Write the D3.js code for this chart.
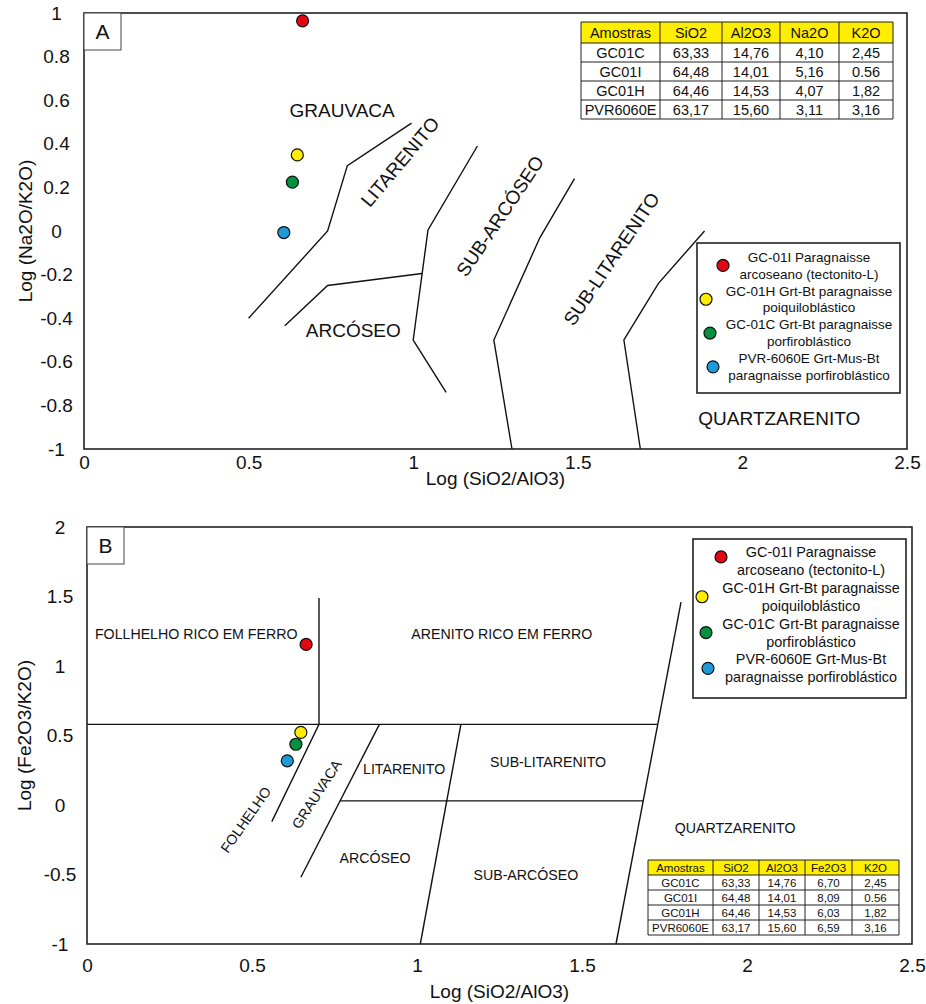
<!DOCTYPE html>
<html>
<head>
<meta charset="utf-8">
<script src="https://cdn.jsdelivr.net/npm/d3@7"></script>
<style>
  body { margin: 0; background: #fff; }
  svg { display: block; font-family: "Liberation Sans", Arial, sans-serif; }
  .tick text { fill: #111; }
</style>
</head>
<body>
<svg></svg>
<script>
// sample table (as printed in the figure)
var samples = ['GC01C', 'GC01I', 'GC01H', 'PVR6060E'];
var sio2 = ['63,33', '64,48', '64,46', '63,17'];
var al2o3 = ['14,76', '14,01', '14,53', '15,60'];
var na2o = ['4,10', '5,16', '4,07', '3,11'];
var fe2o3 = ['6,70', '8,09', '6,03', '6,59'];
var k2o = ['2,45', '0.56', '1,82', '3,16'];

// plotted points, legend order
var pointColors = ['#e30613', '#ffed00', '#00923f', '#1e9ad6'];
var legendLines = [
  ['GC-01I Paragnaisse', 'arcoseano (tectonito-L)'],
  ['GC-01H Grt-Bt paragnaisse', 'poiquiloblástico'],
  ['GC-01C Grt-Bt paragnaisse', 'porfiroblástico'],
  ['PVR-6060E Grt-Mus-Bt', 'paragnaisse porfiroblástico']
];
var logSiAl = [0.664, 0.648, 0.633, 0.607];
var logNaK = [0.964, 0.349, 0.224, -0.007];
var logFeK = [1.155, 0.522, 0.437, 0.318];

var xTicks = [0, 0.5, 1, 1.5, 2, 2.5];
var yTicksA = [1, 0.8, 0.6, 0.4, 0.2, 0, -0.2, -0.4, -0.6, -0.8, -1];
var yTicksB = [2, 1.5, 1, 0.5, 0, -0.5, -1];

// field boundaries
var fieldLinesA = [
  [[0.5, -0.4], [0.74, 0], [0.8, 0.3], [0.995, 0.495]],
  [[0.61, -0.435], [0.74, -0.25], [1.027, -0.195]],
  [[1.195, 0.39], [1.045, 0.005], [1.0, -0.5], [1.1, -0.74]],
  [[1.49, 0.24], [1.385, -0.03], [1.245, -0.5], [1.3, -1]],
  [[1.885, 0], [1.745, -0.24], [1.64, -0.5], [1.69, -1]]
];
var fieldLinesB = [
  [[0, 0.58], [1.728, 0.58]],
  [[0.703, 1.49], [0.703, 0.58], [0.56, -0.12]],
  [[0.886, 0.58], [0.648, -0.52]],
  [[0.767, 0.03], [1.686, 0.03]],
  [[1.133, 0.58], [1.01, -1]],
  [[1.8, 1.46], [1.603, -1]]
];

var fieldNamesA = ['GRAUVACA', 'ARCÓSEO', 'LITARENITO', 'SUB-ARCÓSEO', 'SUB-LITARENITO', 'QUARTZARENITO'];
var fieldPosA = [[0.784, 0.555, 0], [0.818, -0.454, 0], [0.96, 0.317, -50], [1.264, 0.069, -56], [1.602, -0.128, -56], [2.112, -0.858, 0]];
var fieldNamesB = ['FOLLHELHO RICO EM FERRO', 'ARENITO RICO EM FERRO', 'LITARENITO', 'SUB-LITARENITO', 'ARCÓSEO', 'SUB-ARCÓSEO', 'QUARTZARENITO', 'FOLHELHO', 'GRAUVACA'];
var fieldPosB = [[0.331, 1.228, 0], [1.257, 1.233, 0], [0.961, 0.26, 0], [1.397, 0.307, 0], [0.873, -0.385, 0], [1.33, -0.502, 0], [1.964, -0.168, 0], [0.481, -0.106, -55], [0.696, 0.077, -57]];

var width = 926, height = 1004;
var svg = d3.select('svg').attr('width', width).attr('height', height);
svg.append('rect').attr('width', width).attr('height', height).attr('fill', '#fff');

function drawPanel(o) {
  var x = d3.scaleLinear().domain([0, 2.5]).range([o.left, o.right]);
  var y = d3.scaleLinear().domain(o.yDomain).range([o.bottom, o.top]);
  var g = svg.append('g');

  // axes: labels only, no tick marks, plain hyphen for negatives
  var xa = g.append('g')
      .attr('transform', `translate(0, ${o.bottom + o.xPad})`)
      .call(d3.axisBottom(x).tickValues(xTicks).tickSize(0).tickPadding(0).tickFormat(d => String(d)));
  xa.select('.domain').remove();
  xa.selectAll('text').attr('font-size', 19).attr('dy', '0.35em').attr('font-family', null);

  var ya = g.append('g')
      .attr('transform', `translate(${o.yLabelX}, 0)`)
      .call(d3.axisLeft(y).tickValues(o.yTicks).tickSize(0).tickPadding(0).tickFormat(d => String(d)));
  ya.select('.domain').remove();
  ya.selectAll('text').attr('font-size', 19).attr('text-anchor', 'middle').attr('x', 0).attr('font-family', null);

  g.append('text')
      .attr('x', (o.left + o.right) / 2).attr('y', o.xTitleY).attr('dy', '0.35em')
      .attr('text-anchor', 'middle').attr('font-size', 19).attr('fill', '#111')
      .text('Log (SiO2/AlO3)');
  g.append('text')
      .attr('transform', `translate(${o.yTitleX}, ${(o.top + o.bottom) / 2}) rotate(-90)`)
      .attr('dy', '0.35em').attr('text-anchor', 'middle').attr('font-size', 19).attr('fill', '#111')
      .text(o.yTitle);

  // field boundaries
  var line = d3.line().x(d => x(d[0])).y(d => y(d[1]));
  g.selectAll('.field').data(o.lines).enter().append('path')
      .attr('d', line).attr('fill', 'none').attr('stroke', '#111').attr('stroke-width', 1.4);

  g.selectAll('.fname').data(o.names).enter().append('text')
      .attr('transform', (d, i) => `translate(${x(o.namePos[i][0])}, ${y(o.namePos[i][1])}) rotate(${o.namePos[i][2]})`)
      .attr('text-anchor', 'middle').attr('dy', '0.35em')
      .attr('font-size', o.nameSize).attr('fill', '#111')
      .text(d => d);

  // frame
  g.append('rect')
      .attr('x', o.left).attr('y', o.top)
      .attr('width', o.right - o.left).attr('height', o.bottom - o.top)
      .attr('fill', 'none').attr('stroke', '#222').attr('stroke-width', 1.6);
  g.append('rect')
      .attr('x', o.left).attr('y', o.top).attr('width', 37).attr('height', 37)
      .attr('fill', '#fff').attr('stroke', '#444').attr('stroke-width', 1);
  g.append('text')
      .attr('x', o.left + 18.5).attr('y', o.top + 19).attr('dy', '0.35em')
      .attr('text-anchor', 'middle').attr('font-size', 21).attr('fill', '#111')
      .text(o.letter);

  // samples
  g.selectAll('.pt').data(o.ys).enter().append('circle')
      .attr('cx', (d, i) => x(logSiAl[i])).attr('cy', d => y(d)).attr('r', 6)
      .attr('fill', (d, i) => pointColors[i]).attr('stroke', '#111').attr('stroke-width', 1.2);

  // legend
  var L = o.legend;
  g.append('rect')
      .attr('x', L.x0).attr('y', L.y0).attr('width', L.x1 - L.x0).attr('height', L.y1 - L.y0)
      .attr('fill', '#fff').attr('stroke', '#222').attr('stroke-width', 1.6);
  legendLines.forEach(function(lines, i) {
    g.append('circle')
        .attr('cx', L.markX[i]).attr('cy', L.firstY + L.step * (2 * i + 0.5) + L.markDy[i]).attr('r', 6)
        .attr('fill', pointColors[i]).attr('stroke', '#111').attr('stroke-width', 1.2);
    lines.forEach(function(t, j) {
      g.append('text')
          .attr('x', L.textX).attr('y', L.firstY + L.step * (2 * i + j)).attr('dy', '0.35em')
          .attr('text-anchor', 'middle').attr('font-size', L.size).attr('fill', '#111')
          .text(t);
    });
  });

  // data table
  var T = o.table;
  var cols = [['Amostras'].concat(samples), ['SiO2'].concat(sio2), ['Al2O3'].concat(al2o3),
              [o.oxide].concat(o.oxide === 'Na2O' ? na2o : fe2o3), ['K2O'].concat(k2o)];
  var colX = d3.cumsum([T.x].concat(T.widths));
  var rowY = [T.y, T.y + T.headH];
  for (var r = 1; r <= samples.length; r++) rowY.push(rowY[r] + T.rowH);
  g.append('rect')
      .attr('x', T.x).attr('y', T.y).attr('width', colX[5] - T.x).attr('height', T.headH)
      .attr('fill', '#ffee00');
  cols.forEach(function(col, c) {
    col.forEach(function(v, r) {
      g.append('text')
          .attr('x', (colX[c] + colX[c + 1]) / 2).attr('y', (rowY[r] + rowY[r + 1]) / 2)
          .attr('dy', '0.36em').attr('text-anchor', 'middle')
          .attr('font-size', T.size).attr('fill', '#111')
          .text(v);
    });
  });
  g.selectAll('.hl').data(rowY).enter().append('line')
      .attr('x1', T.x).attr('x2', colX[5]).attr('y1', d => d).attr('y2', d => d)
      .attr('stroke', '#222').attr('stroke-width', 1);
  g.selectAll('.vl').data(colX).enter().append('line')
      .attr('x1', d => d).attr('x2', d => d).attr('y1', T.y).attr('y2', rowY[rowY.length - 1])
      .attr('stroke', '#222').attr('stroke-width', 1);
}

drawPanel({
  letter: 'A', left: 84, right: 907, top: 13, bottom: 449, yDomain: [-1, 1], yTicks: yTicksA,
  xPad: 13, xTitleY: 478, yLabelX: 56.5, yTitleX: 25, yTitle: 'Log (Na2O/K2O)',
  lines: fieldLinesA, names: fieldNamesA, namePos: fieldPosA, nameSize: 19,
  ys: logNaK, oxide: 'Na2O',
  legend: { x0: 697, x1: 900, y0: 243, y1: 393, firstY: 257, step: 16.9, textX: 809, size: 13.5,
            markX: [723, 706, 710, 713], markDy: [0, 0, 0, 0] },
  table: { x: 581, y: 22, widths: [79, 62, 58, 59, 54], headH: 21, rowH: 19, size: 14.5 }
});

drawPanel({
  letter: 'B', left: 87, right: 912, top: 527, bottom: 944, yDomain: [-1, 2], yTicks: yTicksB,
  xPad: 21, xTitleY: 991, yLabelX: 60, yTitleX: 24, yTitle: 'Log (Fe2O3/K2O)',
  lines: fieldLinesB, names: fieldNamesB, namePos: fieldPosB, nameSize: 14.2,
  ys: logFeK, oxide: 'Fe2O3',
  legend: { x0: 693, x1: 906, y0: 539, y1: 698, firstY: 552, step: 17.9, textX: 811, size: 14.4,
            markX: [721, 702, 706, 708], markDy: [-4, 0, 0, 0] },
  table: { x: 648, y: 860, widths: [65, 46, 46, 47, 47], headH: 15, rowH: 15, size: 11.5 }
});
</script>
</body>
</html>
